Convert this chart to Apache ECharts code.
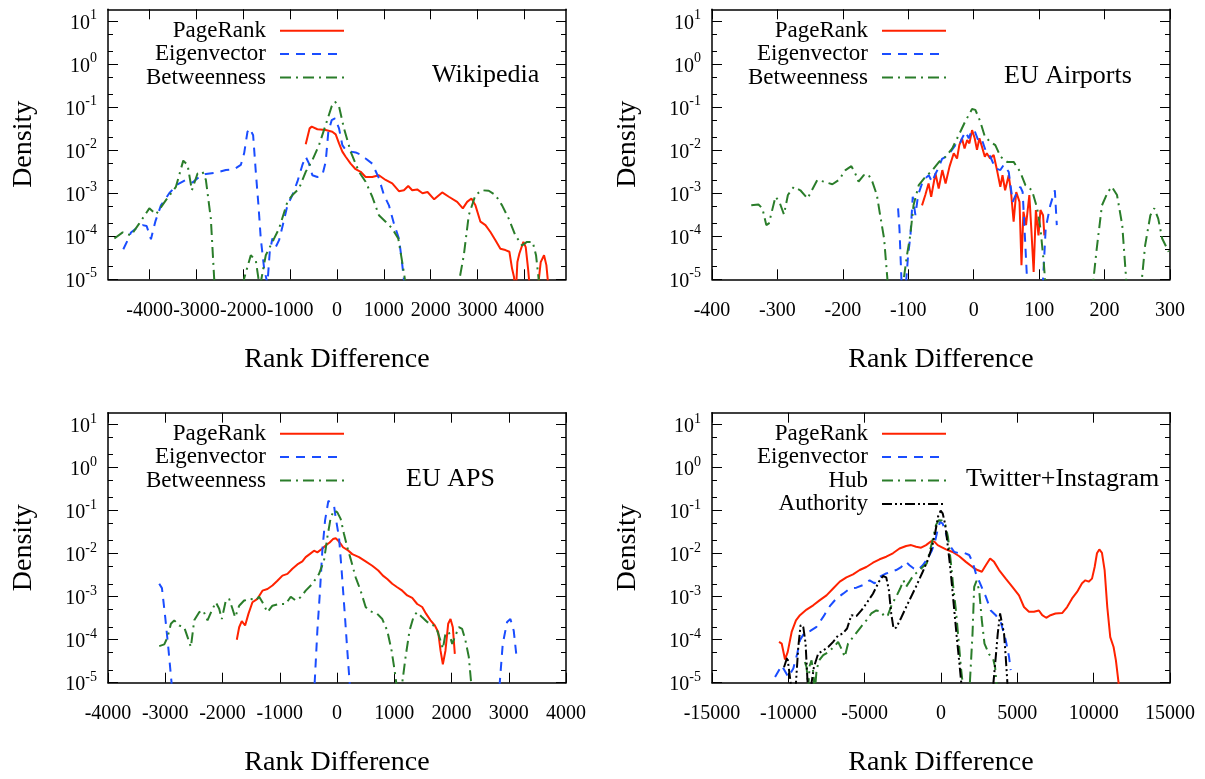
<!DOCTYPE html>
<html>
<head>
<meta charset="utf-8">
<script src="https://cdn.jsdelivr.net/npm/echarts@6/dist/echarts.min.js"></script>
<style>
html, body { margin: 0; padding: 0; background: #fff; }
#main { width: 1205px; height: 779px; }
</style>
</head>
<body>
<div id="main"></div>
<script>
/**
 * Rank difference densities, four networks.
 * Curves are [rank difference, log10(density)].
 */

// Wikipedia
var wikiPageRank = [[-668,-1.86],[-584,-1.49],[-540,-1.45],[-419,-1.51],[-242,-1.53],[-100,-1.57],[-28,-1.63],[43,-1.84],[114,-2.03],[185,-2.15],[291,-2.31],[398,-2.44],[505,-2.5],[611,-2.62],[753,-2.62],[895,-2.58],[1038,-2.69],[1180,-2.77],[1322,-2.95],[1429,-2.93],[1521,-2.83],[1606,-2.93],[1713,-2.91],[1826,-3.0],[1933,-2.97],[2075,-3.14],[2246,-2.98],[2388,-3.08],[2566,-3.2],[2687,-3.35],[2779,-3.2],[2871,-3.12],[2956,-3.28],[3063,-3.66],[3170,-3.74],[3276,-3.9],[3383,-4.09],[3489,-4.29],[3596,-4.32],[3681,-4.36],[3738,-4.75],[3781,-4.95],[3810,-5.5],[3852,-4.6],[3895,-4.4],[3980,-4.13],[4030,-4.25],[4080,-4.75],[4108,-5.1],[4200,-6],[4300,-5.1],[4350,-4.6],[4421,-4.44],[4471,-4.67],[4500,-5.0],[4540,-6]];
var wikiEigen = [[-4563,-4.3],[-4470,-4.09],[-4399,-3.91],[-4293,-3.82],[-4150,-3.74],[-4065,-3.76],[-3973,-4.07],[-3880,-3.66],[-3760,-3.28],[-3582,-3.0],[-3404,-2.79],[-3227,-2.69],[-3085,-2.75],[-2942,-2.62],[-2800,-2.55],[-2587,-2.52],[-2374,-2.46],[-2196,-2.44],[-2054,-2.34],[-1983,-2.07],[-1912,-1.57],[-1862,-1.49],[-1791,-1.65],[-1734,-2.5],[-1677,-3.28],[-1628,-4.05],[-1556,-4.75],[-1485,-5.1],[-1436,-4.36],[-1379,-4.05],[-1308,-4.25],[-1237,-4.09],[-1166,-3.78],[-1059,-3.28],[-952,-3.04],[-846,-2.73],[-739,-2.34],[-668,-2.15],[-597,-2.31],[-526,-2.58],[-419,-2.62],[-313,-2.58],[-242,-2.27],[-185,-1.57],[-114,-1.3],[-43,-1.26],[43,-1.49],[114,-1.88],[185,-1.99],[291,-2.03],[398,-2.05],[505,-2.1],[611,-2.19],[753,-2.31],[895,-2.65],[1002,-3.04],[1109,-3.28],[1215,-3.7],[1322,-4.05],[1379,-4.52],[1429,-5.0],[1600,-8]];
var wikiBetween = [[-4754,-4.05],[-4577,-3.91],[-4399,-3.98],[-4221,-3.7],[-4008,-3.35],[-3866,-3.49],[-3653,-3.16],[-3440,-2.85],[-3283,-2.24],[-3191,-2.34],[-3099,-2.93],[-2978,-2.54],[-2871,-2.5],[-2800,-2.69],[-2694,-3.59],[-2623,-4.98],[-2400,-8],[-2100,-8],[-1983,-4.98],[-1841,-4.44],[-1734,-4.56],[-1649,-5.2],[-1521,-4.44],[-1379,-4.13],[-1237,-3.82],[-1059,-3.2],[-952,-3.04],[-810,-2.89],[-668,-2.5],[-526,-2.23],[-384,-1.88],[-242,-1.41],[-114,-0.98],[-43,-0.87],[43,-0.98],[149,-1.49],[291,-2.03],[469,-2.5],[611,-2.73],[753,-3.08],[895,-3.51],[1038,-3.66],[1180,-3.82],[1308,-4.05],[1393,-4.6],[1450,-5.0],[1700,-8],[2400,-8],[2615,-5.0],[2708,-4.44],[2814,-3.51],[2956,-3.04],[3099,-2.93],[3241,-2.94],[3383,-3.04],[3525,-3.28],[3667,-3.59],[3809,-3.98],[3951,-4.21],[4058,-4.13],[4179,-4.13],[4250,-4.44],[4307,-5.0],[4500,-8]];

// EU Airports
var airPageRank = [[-79,-3.28],[-74,-3.04],[-69,-2.77],[-65,-3.08],[-58.5,-2.54],[-53.5,-2.89],[-48,-2.46],[-43,-2.77],[-37,-2.38],[-30.5,-2.07],[-25.5,-2.19],[-22,-1.88],[-18,-1.72],[-14,-1.96],[-10,-1.76],[-6.6,-1.84],[-2.5,-1.53],[1.5,-1.72],[5,-1.99],[8.7,-1.72],[12.7,-1.92],[17,-2.15],[20,-2.07],[25,-2.19],[30.5,-2.11],[35.6,-2.46],[40.7,-2.85],[44,-2.58],[48,-2.93],[53.5,-2.58],[57,-2.97],[61,-3.66],[65,-2.97],[70,-3.2],[73,-4.67],[76,-3.43],[80,-3.74],[85,-3.04],[88,-3.82],[91.6,-4.83],[95,-3.39],[99,-3.98],[102,-3.39],[106,-3.51],[108,-3.98]];
var airEigen = [[-115.6,-3.35],[-113.5,-3.82],[-110.5,-5.0],[-107,-7],[-103,-5.0],[-100.3,-4.44],[-96.7,-3.98],[-93.2,-3.08],[-89.1,-3.51],[-85,-3.04],[-78.9,-2.77],[-73.8,-2.65],[-68.7,-2.58],[-63.6,-2.74],[-58.6,-2.55],[-53.5,-2.4],[-48.4,-2.2],[-42.3,-2.15],[-35.6,-2.04],[-28,-1.88],[-22.9,-1.92],[-17.8,-1.72],[-12.7,-1.57],[-7.6,-1.72],[-2.5,-1.53],[1.5,-1.55],[7.6,-1.8],[12.7,-1.76],[17.8,-1.99],[25.5,-2.15],[33.1,-2.42],[40.7,-2.46],[45.8,-2.34],[53.5,-2.5],[59.6,-3.2],[66.2,-2.97],[71.3,-2.85],[74.8,-2.97],[78.9,-4.21],[81.5,-5.0],[90,-8],[100,-8],[106,-5.0],[110,-3.82],[117,-3.28],[124,-2.93],[127,-3.74]];
var airBetween = [[-340,-3.28],[-329,-3.26],[-323,-3.35],[-317,-3.74],[-313,-3.7],[-303,-3.08],[-297,-3.2],[-290,-3.49],[-284,-3.04],[-275,-2.85],[-265,-2.93],[-254,-3.12],[-239,-2.69],[-229,-2.73],[-216,-2.79],[-206,-2.69],[-196,-2.46],[-187,-2.37],[-181,-2.54],[-176,-2.73],[-168,-2.58],[-161,-2.56],[-155,-2.73],[-148,-3.04],[-143,-3.51],[-137,-4.05],[-132,-4.98],[-125,-8],[-112,-8],[-107,-5.0],[-102,-4.44],[-97,-3.98],[-92,-3.28],[-84,-2.81],[-74,-2.62],[-64,-2.48],[-53,-2.27],[-43,-2.15],[-33,-1.96],[-23,-1.65],[-13,-1.33],[-2.5,-1.04],[2.5,-1.06],[10,-1.33],[17,-1.68],[25,-1.8],[33,-1.88],[41,-2.15],[51,-2.27],[61,-2.27],[71,-2.5],[79,-2.81],[89,-2.93],[97,-3.35],[102,-3.82],[107,-4.6],[109,-5.0],[115,-8],[178,-8],[183,-5.0],[188,-4.29],[196,-3.28],[205,-2.97],[211,-2.85],[219,-3.04],[227,-3.74],[233,-5.0],[240,-8],[252,-8],[257,-5.0],[262,-4.21],[270,-3.51],[276,-3.35],[282,-3.59],[288,-4.05],[298,-4.36]];

// EU APS
var apsPageRank = [[-1750,-4.0],[-1709,-3.71],[-1663,-3.57],[-1605,-3.67],[-1547,-3.4],[-1477,-3.13],[-1390,-3.05],[-1302,-2.86],[-1215,-2.82],[-1128,-2.74],[-1041,-2.63],[-953,-2.51],[-866,-2.47],[-779,-2.35],[-692,-2.25],[-605,-2.18],[-547,-2.08],[-477,-2.01],[-401,-1.93],[-343,-1.97],[-267,-1.89],[-198,-1.81],[-128,-1.74],[-70,-1.66],[-23,-1.64],[23,-1.7],[64,-1.77],[105,-1.85],[180,-1.91],[267,-2.01],[384,-2.08],[500,-2.18],[616,-2.28],[721,-2.39],[802,-2.51],[878,-2.59],[965,-2.7],[1052,-2.78],[1140,-2.86],[1227,-2.97],[1314,-3.03],[1401,-3.17],[1488,-3.24],[1558,-3.4],[1634,-3.55],[1709,-3.67],[1767,-3.82],[1808,-4.25],[1849,-4.57],[1895,-4.25],[1942,-3.63],[1983,-3.52],[2023,-3.71],[2058,-4.33]];
var apsEigen = [[-3105,-2.7],[-3058,-2.8],[-3000,-3.48],[-2942,-4.25],[-2890,-5.0],[-2850,-8],[-430,-8],[-390,-5.0],[-343,-3.79],[-297,-2.86],[-256,-1.93],[-209,-1.23],[-151,-0.77],[-122,-0.73],[-52,-0.88],[-23,-1.16],[35,-1.62],[81,-2.39],[140,-3.48],[180,-4.25],[221,-5.0],[260,-8],[2800,-8],[2843,-5.0],[2895,-4.1],[2971,-3.59],[3029,-3.52],[3087,-3.79],[3134,-4.37]];
var apsBetween = [[-3105,-4.15],[-3017,-4.11],[-2959,-3.94],[-2901,-3.63],[-2843,-3.55],[-2756,-3.67],[-2669,-3.71],[-2610,-3.94],[-2552,-4.17],[-2494,-3.55],[-2407,-3.36],[-2337,-3.32],[-2262,-3.55],[-2186,-3.32],[-2116,-3.13],[-2058,-3.28],[-2012,-3.52],[-1942,-3.09],[-1884,-3.05],[-1826,-3.28],[-1779,-3.48],[-1709,-3.21],[-1622,-3.09],[-1506,-3.05],[-1419,-3.09],[-1360,-3.0],[-1302,-3.13],[-1215,-3.36],[-1128,-3.21],[-1012,-3.17],[-895,-3.17],[-808,-3.0],[-721,-3.09],[-634,-3.01],[-547,-2.86],[-430,-2.7],[-314,-2.47],[-227,-2.16],[-169,-1.62],[-110,-1.16],[-52,-0.99],[6,-1.04],[64,-1.19],[122,-1.54],[180,-1.85],[238,-2.12],[326,-2.55],[413,-2.86],[500,-3.24],[587,-3.34],[703,-3.4],[791,-3.52],[878,-3.79],[953,-4.25],[1006,-4.71],[1035,-5.0],[1085,-7],[1140,-5.0],[1198,-4.4],[1267,-3.79],[1343,-3.44],[1401,-3.36],[1488,-3.48],[1576,-3.59],[1663,-3.63],[1750,-3.79],[1808,-4.02],[1849,-4.21],[1895,-3.86],[1953,-3.82],[2012,-4.1],[2058,-3.94],[2128,-3.71],[2186,-3.75],[2244,-4.02],[2302,-4.4],[2343,-5.0],[2400,-7]];

// Twitter+Instagram
var twPageRank = [[-10609,-4.05],[-10435,-4.09],[-10218,-4.46],[-10044,-4.29],[-9783,-3.82],[-9500,-3.55],[-9239,-3.43],[-8805,-3.3],[-8370,-3.2],[-7935,-3.08],[-7500,-2.97],[-7065,-2.81],[-6630,-2.65],[-6196,-2.55],[-5761,-2.48],[-5326,-2.38],[-4891,-2.31],[-4457,-2.21],[-4022,-2.13],[-3587,-2.07],[-3152,-1.99],[-2718,-1.88],[-2283,-1.82],[-1957,-1.8],[-1630,-1.84],[-1304,-1.86],[-978,-1.8],[-652,-1.71],[-435,-1.72],[-217,-1.8],[0,-1.84],[326,-1.9],[761,-1.96],[1196,-2.06],[1630,-2.19],[2065,-2.31],[2391,-2.38],[2674,-2.42],[2935,-2.27],[3218,-2.11],[3478,-2.19],[3804,-2.38],[4239,-2.58],[4674,-2.77],[5109,-2.97],[5435,-3.24],[5761,-3.35],[6087,-3.35],[6413,-3.32],[6630,-3.43],[6891,-3.49],[7174,-3.43],[7500,-3.39],[7935,-3.38],[8261,-3.24],[8587,-3.04],[8913,-2.89],[9239,-2.69],[9457,-2.62],[9674,-2.65],[9891,-2.58],[10065,-2.31],[10217,-1.99],[10370,-1.9],[10543,-1.98],[10717,-2.38],[10891,-3.24],[11087,-3.94],[11304,-4.17],[11457,-4.48],[11630,-5.0],[11740,-6]];
var twEigen = [[-10870,-4.87],[-10435,-4.6],[-10000,-4.87],[-9674,-4.67],[-9413,-4.32],[-9239,-4.01],[-8913,-3.82],[-8587,-3.8],[-8152,-3.7],[-7717,-3.47],[-7283,-3.22],[-6848,-3.04],[-6413,-2.93],[-5978,-2.81],[-5543,-2.79],[-5109,-2.73],[-4674,-2.62],[-4348,-2.69],[-4022,-2.54],[-3587,-2.46],[-3261,-2.42],[-2935,-2.38],[-2609,-2.31],[-2283,-2.19],[-2065,-2.27],[-1804,-2.34],[-1522,-2.38],[-1196,-2.27],[-870,-2.11],[-587,-1.92],[-370,-1.68],[-196,-1.41],[-65,-1.26],[109,-1.3],[326,-1.53],[543,-1.8],[870,-1.96],[1196,-1.99],[1522,-1.98],[1848,-2.03],[2065,-2.19],[2283,-2.46],[2609,-2.73],[2935,-3.0],[3261,-3.32],[3587,-3.43],[3913,-3.59],[4239,-4.01],[4457,-4.4],[4565,-4.71]];
var twHub = [[-8913,-4.52],[-8805,-4.64],[-8696,-5.1],[-8600,-4.6],[-8478,-4.48],[-8370,-4.75],[-8260,-5.2],[-8150,-4.7],[-7978,-4.48],[-7717,-4.36],[-7391,-4.29],[-7022,-4.17],[-6739,-4.05],[-6522,-4.21],[-6304,-4.4],[-6087,-4.09],[-5761,-3.94],[-5326,-3.74],[-4891,-3.55],[-4565,-3.39],[-4239,-3.32],[-3913,-3.35],[-3696,-3.47],[-3478,-3.43],[-3196,-3.16],[-2935,-3.0],[-2674,-2.81],[-2457,-2.62],[-2283,-2.77],[-2065,-2.65],[-1804,-2.5],[-1522,-2.42],[-1196,-2.31],[-935,-2.23],[-717,-1.92],[-500,-1.61],[-326,-1.33],[-152,-1.22],[65,-1.23],[283,-1.33],[457,-1.61],[630,-2.15],[804,-2.77],[978,-3.32],[1152,-4.01],[1304,-4.64],[1413,-5.0],[1550,-8],[1800,-8],[1891,-5.0],[2065,-3.86],[2174,-2.77],[2326,-2.63],[2500,-2.85],[2674,-3.55],[2848,-4.09],[3152,-4.34],[3413,-4.44],[3543,-4.64],[3630,-5.0],[3750,-8]];
var twAuthority = [[-10283,-4.64],[-10065,-4.4],[-9848,-5.0],[-9700,-6],[-9500,-5.0],[-9348,-4.17],[-9196,-3.66],[-9022,-3.7],[-8870,-4.09],[-8739,-5.0],[-8600,-6],[-8478,-5.0],[-8326,-4.64],[-8044,-4.32],[-7717,-4.25],[-7391,-4.17],[-7065,-4.05],[-6739,-3.9],[-6457,-3.86],[-6152,-3.74],[-5870,-3.43],[-5543,-3.45],[-5217,-3.32],[-4891,-3.16],[-4457,-2.93],[-4065,-2.65],[-3804,-2.52],[-3587,-2.55],[-3413,-2.85],[-3261,-3.39],[-3109,-3.74],[-2935,-3.72],[-2609,-3.49],[-2283,-3.24],[-1957,-3.0],[-1630,-2.76],[-1196,-2.42],[-870,-2.15],[-587,-1.84],[-370,-1.49],[-196,-1.14],[-22,-1.0],[109,-1.06],[261,-1.3],[413,-1.72],[565,-2.19],[717,-2.73],[870,-3.32],[1022,-3.9],[1174,-4.44],[1326,-5.0],[1450,-8],[3300,-8],[3435,-5.0],[3587,-4.4],[3717,-3.86],[3870,-3.39],[4000,-3.43],[4130,-3.86],[4239,-4.4],[4348,-5.0],[4450,-8]];

// axes
var wikiTicks = [-4000, -3000, -2000, -1000, 0, 1000, 2000, 3000, 4000];
var airTicks = [-400, -300, -200, -100, 0, 100, 200, 300];
var apsTicks = [-4000, -3000, -2000, -1000, 0, 1000, 2000, 3000, 4000];
var twTicks = [-15000, -10000, -5000, 0, 5000, 10000, 15000];
var densityTicks = [1e-5, 1e-4, 1e-3, 1e-2, 1e-1, 1, 10];
var densityMinorTicks = [2e-5, 5e-5, 2e-4, 5e-4, 2e-3, 5e-3, 2e-2, 5e-2, 0.2, 0.5, 2, 5];

var FONT = "'Liberation Serif', 'Times New Roman', serif";

var styles = {
	'PageRank' : { color : '#ff2200', type : 'solid' },
	'Eigenvector' : { color : '#1a4dff', type : [9, 7] },
	'Betweenness' : { color : '#2a7d2a', type : [11, 5, 2, 5] },
	'Hub' : { color : '#2a7d2a', type : [11, 5, 2, 5] },
	'Authority' : { color : '#000000', type : [10, 3, 2, 3, 2, 3] }
};

var panels = [
	{ left : 108, top : 9.3, xMin : -4890, xMax : 4890, ticks : wikiTicks,
	  label : 'Wikipedia', labelX : 432, labelY : 75, legendRight : 860, legendTop : 19,
	  curves : [['PageRank', wikiPageRank], ['Eigenvector', wikiEigen], ['Betweenness', wikiBetween]] },
	{ left : 712, top : 9.3, xMin : -400, xMax : 300, ticks : airTicks,
	  label : 'EU Airports', labelX : 1004, labelY : 76, legendRight : 258, legendTop : 19,
	  curves : [['PageRank', airPageRank], ['Eigenvector', airEigen], ['Betweenness', airBetween]] },
	{ left : 108, top : 412.7, xMin : -4000, xMax : 4000, ticks : apsTicks,
	  label : 'EU APS', labelX : 406, labelY : 479, legendRight : 860, legendTop : 422,
	  curves : [['PageRank', apsPageRank], ['Eigenvector', apsEigen], ['Betweenness', apsBetween]] },
	{ left : 712, top : 412.7, xMin : -15000, xMax : 15000, ticks : twTicks,
	  label : 'Twitter+Instagram', labelX : 966, labelY : 479, legendRight : 258, legendTop : 422,
	  curves : [['PageRank', twPageRank], ['Eigenvector', twEigen], ['Hub', twHub], ['Authority', twAuthority]] }
];

var myChart = echarts.init(document.getElementById('main'));
var option = {
	animation : false,
	backgroundColor : '#ffffff',
	grid : [], xAxis : [], yAxis : [], legend : [], series : [], graphic : []
};

var frame = { show : true, onZero : false, lineStyle : { color : '#000', width : 1.5 } };

panels.forEach(function (p, i) {
	option.grid.push({ left : p.left, top : p.top, width : 458, height : 270, outerBoundsMode : 'none' });

	// bottom and top x axes
	option.xAxis.push({
		type : 'value', gridIndex : i, position : 'bottom', min : p.xMin, max : p.xMax,
		axisLine : frame, splitLine : { show : false },
		axisTick : { inside : true, length : 10, customValues : p.ticks, lineStyle : { color : '#000' } },
		axisLabel : { customValues : p.ticks, margin : 21, fontFamily : FONT, fontSize : 20, color : '#000',
			formatter : function (v) { return String(v); } },
		name : 'Rank Difference', nameLocation : 'middle', nameGap : 66, nameMoveOverlap : false,
		nameTextStyle : { fontFamily : FONT, fontSize : 28, color : '#000' }
	});
	option.xAxis.push({
		type : 'value', gridIndex : i, position : 'top', min : p.xMin, max : p.xMax,
		axisLine : frame, splitLine : { show : false }, axisLabel : { show : false },
		axisTick : { inside : true, length : 10, customValues : p.ticks, lineStyle : { color : '#000' } }
	});

	// left: labels + decade ticks, minor ticks; right: mirrored ticks
	option.yAxis.push({
		type : 'log', gridIndex : i, position : 'left', min : 1e-5, max : 19,
		axisLine : frame, splitLine : { show : false },
		axisTick : { inside : true, length : 10, customValues : densityTicks, lineStyle : { color : '#000' } },
		axisLabel : { customValues : densityTicks, margin : 11,
			formatter : function (v) { return '{b|10}{s|' + Math.round(Math.log10(v)) + '}'; },
			rich : {
				b : { fontFamily : FONT, fontSize : 20, lineHeight : 25, verticalAlign : 'bottom', color : '#000' },
				s : { fontFamily : FONT, fontSize : 14, lineHeight : 14, verticalAlign : 'top', color : '#000' }
			} },
		name : 'Density', nameLocation : 'middle', nameGap : 70, nameMoveOverlap : false,
		nameTextStyle : { fontFamily : FONT, fontSize : 28, color : '#000' }
	});
	option.yAxis.push({
		type : 'log', gridIndex : i, position : 'left', min : 1e-5, max : 19,
		axisLine : { show : false, onZero : false }, splitLine : { show : false }, axisLabel : { show : false },
		axisTick : { inside : true, length : 5, customValues : densityMinorTicks, lineStyle : { color : '#000' } }
	});
	option.yAxis.push({
		type : 'log', gridIndex : i, position : 'right', min : 1e-5, max : 19,
		axisLine : frame, splitLine : { show : false }, axisLabel : { show : false },
		axisTick : { inside : true, length : 10, customValues : densityTicks, lineStyle : { color : '#000' } }
	});
	option.yAxis.push({
		type : 'log', gridIndex : i, position : 'right', min : 1e-5, max : 19,
		axisLine : { show : false, onZero : false }, splitLine : { show : false }, axisLabel : { show : false },
		axisTick : { inside : true, length : 5, customValues : densityMinorTicks, lineStyle : { color : '#000' } }
	});

	option.legend.push({
		orient : 'vertical', align : 'right', right : p.legendRight, top : p.legendTop,
		padding : 0, itemGap : 0, itemWidth : 64, itemHeight : 14, selectedMode : false,
		itemStyle : { opacity : 0 },
		textStyle : { fontFamily : FONT, fontSize : 23, color : '#000', lineHeight : 23.4, padding : [0, 9, 0, 0] },
		data : p.curves.map(function (c) {
			return { name : c[0], itemStyle : { opacity : 0 },
				lineStyle : { color : styles[c[0]].color, type : styles[c[0]].type, width : 2 } };
		})
	});

	p.curves.forEach(function (c) {
		var st = styles[c[0]];
		option.series.push({
			name : c[0], type : 'line', xAxisIndex : 2 * i, yAxisIndex : 4 * i,
			data : c[1].map(function (d) { return [d[0], Math.pow(10, d[1])]; }),
			showSymbol : false, symbol : 'none', clip : true, silent : true,
			itemStyle : { color : st.color },
			lineStyle : { color : st.color, width : 2, type : st.type }
		});
	});

	option.graphic.push({
		type : 'text', x : p.labelX, y : p.labelY,
		style : { text : p.label, fontFamily : FONT, fontSize : 26, fill : '#000', align : 'left', verticalAlign : 'middle' }
	});
});

myChart.setOption(option);
</script>
</body>
</html>
